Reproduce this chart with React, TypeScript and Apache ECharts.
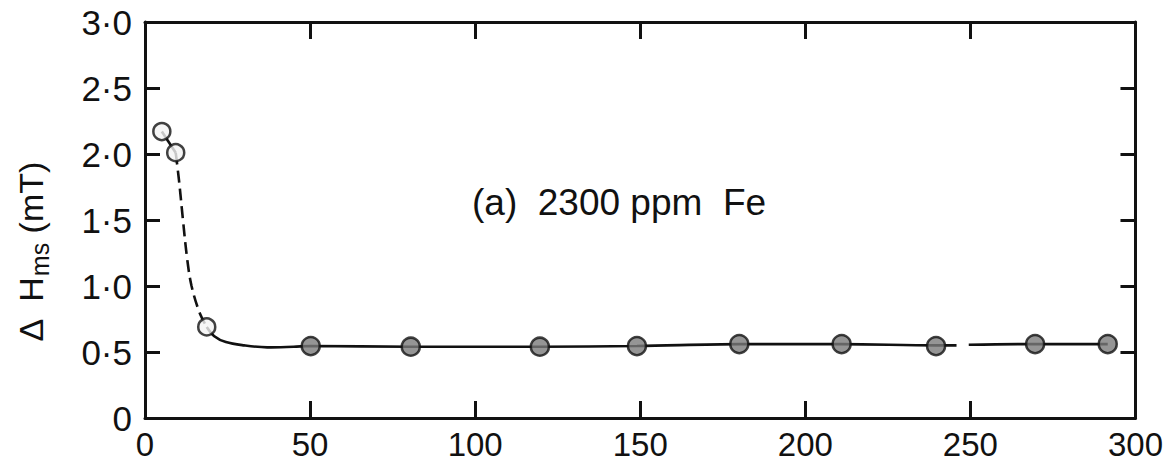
import React, { useEffect, useRef } from "react";
import * as echarts from "echarts";

// Measured points: time (x) vs ΔH_ms (mT)
const openPoints: [number, number][] = [
  [5.1, 2.17],
  [9.3, 2.01],
  [18.7, 0.69],
];
const filledPoints: [number, number][] = [
  [50.2, 0.545],
  [80.5, 0.54],
  [119.6, 0.54],
  [149, 0.545],
  [180, 0.56],
  [211, 0.56],
  [239.6, 0.545],
  [269.6, 0.56],
  [291.6, 0.56],
];

// Hand-drawn guide curve
const curveLead: [number, number][] = [
  [5.1, 2.17],
  [9.3, 2.01],
];
const curveDashed: [number, number][] = [
  [9.3, 2.01],
  [10.3, 1.8],
  [11.5, 1.5],
  [12.8, 1.2],
  [14.1, 1.0],
  [16.5, 0.8],
  [18.7, 0.69],
];
const curveSolidA: [number, number][] = [
  [18.7, 0.69],
  [21, 0.62],
  [24.5, 0.575],
  [30, 0.55],
  [37, 0.535],
  [45, 0.54],
  [50.2, 0.545],
  [80.5, 0.54],
  [119.6, 0.54],
  [149, 0.545],
  [180, 0.56],
  [211, 0.56],
  [239.6, 0.55],
  [245.8, 0.55],
];
const curveSolidB: [number, number][] = [
  [249.5, 0.555],
  [269.6, 0.56],
  [291.6, 0.56],
];

const xTicks = [0, 50, 100, 150, 200, 250, 300];
const yTicks = [0, 0.5, 1.0, 1.5, 2.0, 2.5, 3.0];
const annotation = "(a)  2300 ppm  Fe";
const yTitle = "{h|Δ  H}{s|ms}{h| (mT)}";

const INK = "#111";
const TICK_FONT = "'Liberation Sans Narrow', 'Liberation Sans', Arial, sans-serif";
const TEXT_FONT = "'Liberation Sans', Arial, sans-serif";

export default function App() {
  const ref = useRef<HTMLDivElement>(null);

  useEffect(() => {
    if (!ref.current) return;
    const chart = echarts.init(ref.current, undefined, { renderer: "svg" });

    const axisLine = { show: true, onZero: false, lineStyle: { color: INK, width: 3 } };
    const xBase = {
      type: "value" as const,
      min: xTicks[0],
      max: xTicks[xTicks.length - 1],
      interval: 50,
      splitLine: { show: false },
      axisLine,
      axisTick: { show: true, inside: true, length: 17, lineStyle: { color: INK, width: 3 } },
    };
    const yBase = {
      type: "value" as const,
      min: yTicks[0],
      max: yTicks[yTicks.length - 1],
      interval: 0.5,
      splitLine: { show: false },
      axisLine,
      axisTick: { show: true, inside: true, length: 15, lineStyle: { color: INK, width: 3 } },
    };

    const lineSeries = (data: [number, number][], dashed: boolean) => ({
      type: "line" as const,
      data,
      smooth: 0.35,
      showSymbol: false,
      symbol: "none",
      lineStyle: {
        color: INK,
        width: 2.6,
        type: dashed ? ([12, 6] as any) : "solid",
      },
      z: 2,
    });

    chart.setOption({
      animation: false,
      backgroundColor: "#fff",
      grid: { left: 145, right: 23, top: 22, bottom: 51 },
      xAxis: [
        {
          ...xBase,
          position: "bottom",
          axisLabel: {
            color: INK,
            fontSize: 33,
            fontFamily: TICK_FONT,
            margin: 10,
            formatter: (v: number) => String(v),
          },
        },
        { ...xBase, position: "top", axisLabel: { show: false } },
      ],
      yAxis: [
        {
          ...yBase,
          position: "left",
          axisLabel: {
            color: INK,
            fontSize: 35,
            fontFamily: TICK_FONT,
            margin: 13,
            formatter: (v: number) => (v === 0 ? "0" : v.toFixed(1).replace(".", "·")),
          },
        },
        { ...yBase, position: "right", axisLabel: { show: false } },
      ],
      graphic: [
        {
          type: "text",
          x: 31,
          y: 252,
          rotation: Math.PI / 2,
          style: {
            text: yTitle,
            fontSize: 34,
            fontFamily: TEXT_FONT,
            fill: INK,
            align: "center",
            verticalAlign: "middle",
            rich: {
              h: { fontSize: 34, fontFamily: TEXT_FONT, fill: INK },
              s: {
                fontSize: 25,
                fontFamily: TEXT_FONT,
                fill: INK,
                verticalAlign: "bottom",
                padding: [18, 0, 0, 0],
              },
            },
          },
        },
        {
          type: "text",
          left: 472,
          top: 184,
          style: {
            text: annotation,
            fontSize: 37,
            fontFamily: TEXT_FONT,
            fill: INK,
          },
        },
      ],
      series: [
        lineSeries(curveLead, false),
        lineSeries(curveDashed, true),
        lineSeries(curveSolidA, false),
        lineSeries(curveSolidB, false),
        {
          type: "scatter",
          data: openPoints,
          symbol: "circle",
          symbolSize: 17,
          itemStyle: { color: "#f4f4f4", borderColor: INK, borderWidth: 2.5 },
          z: 5,
        },
        {
          type: "scatter",
          data: filledPoints,
          symbol: "circle",
          symbolSize: 18,
          itemStyle: { color: "#7a7a7a", borderColor: INK, borderWidth: 2.5 },
          z: 5,
        },
      ],
    });

    return () => chart.dispose();
  }, []);

  return (
    <div
      ref={ref}
      style={{ position: "absolute", left: 0, top: 0, width: 1166, height: 469, background: "#fff" }}
    />
  );
}
